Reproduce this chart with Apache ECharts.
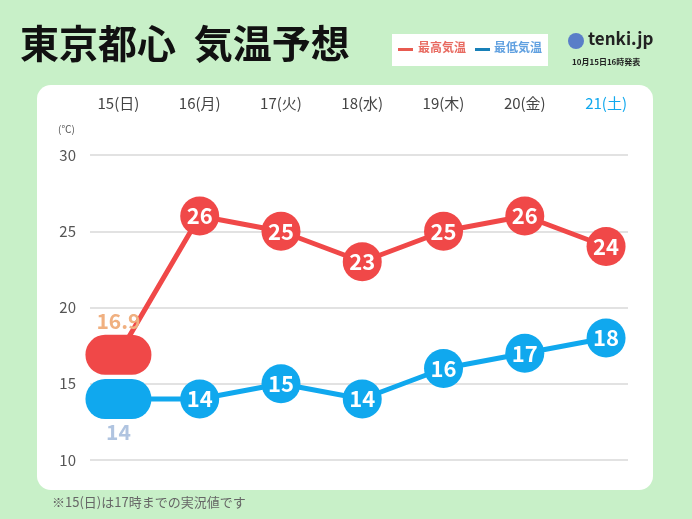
<!DOCTYPE html>
<html><head><meta charset="utf-8">
<script src="https://cdn.jsdelivr.net/npm/echarts@6/dist/echarts.min.js"></script>
<style>html,body{margin:0;padding:0;background:#c8f0c8;}#c{width:692px;height:519px;}</style>
</head><body><div id="c"></div>
<script>
var days = ['15(日)', '16(月)', '17(火)', '18(水)', '19(木)', '20(金)', '21(土)'];
var highTemps = [16.9, 26, 25, 23, 25, 26, 24];
var lowTemps = [14, 14, 15, 14, 16, 17, 18];
var yTicks = [10, 15, 20, 25, 30];

var pill = 'path://M19,0 H45 A19,19 0 0 1 45,38 H19 A19,19 0 0 1 19,0 Z';
var font = '"Noto Sans CJK JP", sans-serif';

function buildData(vals, firstColor, firstPos) {
	return vals.map(function(v, i) {
		if (i == 0) {
			return {
				value: [i, v], symbol: pill, symbolSize: [66, 40],
				label: { show: true, position: firstPos, distance: 3, color: firstColor, fontSize: 21, fontWeight: 'bold', formatter: String(v) }
			};
		}
		return { value: [i, v] };
	});
}

var myChart = echarts.init(document.getElementById('c'));
myChart.setOption({
	backgroundColor: '#c8f0c8',
	animation: false,
	textStyle: { fontFamily: font },
	graphic: [
		{ type: 'rect', shape: { x: 37, y: 85, width: 616, height: 405, r: 14 }, style: { fill: '#fff' }, z: -10 },
		{ type: 'text', left: 20, top: 24, style: { text: '東京都心  気温予想', font: 'bold 39px ' + font, fill: '#111' } },
		{ type: 'rect', shape: { x: 392, y: 34, width: 156, height: 32 }, style: { fill: '#fff' } },
		{ type: 'rect', shape: { x: 398, y: 48, width: 15, height: 3 }, style: { fill: '#e85a50' } },
		{ type: 'text', left: 418, top: 41, style: { text: '最高気温', font: 'bold 12px ' + font, fill: '#e86a60' } },
		{ type: 'rect', shape: { x: 475, y: 48, width: 15, height: 3 }, style: { fill: '#1880b8' } },
		{ type: 'text', left: 494, top: 41, style: { text: '最低気温', font: 'bold 12px ' + font, fill: '#60a0e0' } },
		{ type: 'text', left: 588, top: 30, style: { text: 'tenki.jp', font: 'bold 17px ' + font, fill: '#222' } },
		{ type: 'circle', shape: { cx: 576, cy: 41, r: 8 }, style: { fill: '#5a7ec8' } },
		{ type: 'text', left: 572, top: 58, style: { text: '10月15日16時発表', font: 'bold 8px ' + font, fill: '#222' } },
		{ type: 'text', left: 58, top: 124, style: { text: '(℃)', font: '10px ' + font, fill: '#555' } },
		{ type: 'text', left: 52, top: 496, style: { text: '※15(日)は17時までの実況値です', font: '13px ' + font, fill: '#666' } }
	],
	grid: { left: 90, right: 64, top: 155, bottom: 59 },
	xAxis: {
		type: 'value', min: -0.35, max: 6.27, position: 'top',
		axisLine: { show: false }, axisTick: { show: false }, splitLine: { show: false },
		axisLabel: {
			customValues: [0, 1, 2, 3, 4, 5, 6], margin: 44,
			fontSize: 15,
			color: function(v) { return Math.round(v) == 6 ? '#10a8ee' : '#444'; },
			formatter: function(v) { return days[Math.round(v)]; }
		}
	},
	yAxis: {
		type: 'value', min: yTicks[0], max: yTicks[yTicks.length - 1], interval: 5,
		axisLine: { show: false }, axisTick: { show: false },
		axisLabel: { fontSize: 15, color: '#555', margin: 14 },
		splitLine: { lineStyle: { color: '#d8d8d8', width: 1.5 } }
	},
	series: [{
		type: 'line', data: buildData(highTemps, '#f0b080', 'top'),
		symbol: 'circle', symbolSize: 39,
		itemStyle: { color: '#f04848' }, lineStyle: { color: '#f04848', width: 5 },
		label: { show: true, position: 'inside', color: '#fff', fontSize: 22, fontWeight: 'bold' },
		z: 3
	}, {
		type: 'line', data: buildData(lowTemps, '#b0c4e0', 'bottom'),
		symbol: 'circle', symbolSize: 39,
		itemStyle: { color: '#10a8ee' }, lineStyle: { color: '#10a8ee', width: 5 },
		label: { show: true, position: 'inside', color: '#fff', fontSize: 22, fontWeight: 'bold' },
		z: 2
	}]
});
</script></body></html>
